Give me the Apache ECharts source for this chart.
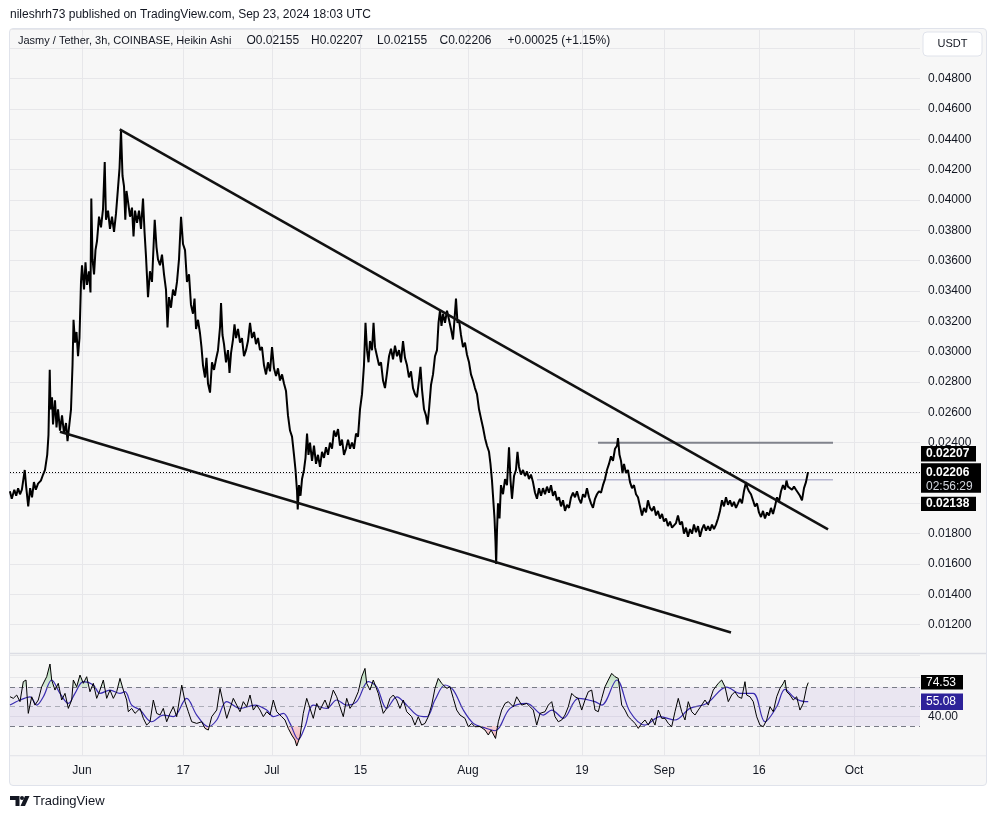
<!DOCTYPE html>
<html><head><meta charset="utf-8">
<script src="https://cdn.jsdelivr.net/npm/echarts@6/dist/echarts.min.js"></script>
<style>
html,body{margin:0;padding:0;background:#fff;}
#wrap{position:relative;width:996px;height:819px;overflow:hidden;background:#fff;}
#frame{position:absolute;left:9px;top:28px;width:978px;height:758px;background:#f7f7f7;border:1px solid #e0e3eb;border-radius:4px;box-sizing:border-box;}
#chart{position:absolute;left:0;top:0;width:996px;height:819px;}
</style></head><body>
<div id="wrap"><div id="frame"></div><div id="chart"></div></div>
<script>
// ---- time axis (days since 2024-06-01) ----
const tickDays = [0, 16, 30, 44, 61, 79, 92, 107, 122];
const tickLabels = ['Jun', '17', 'Jul', '15', 'Aug', '19', 'Sep', '16', 'Oct'];
const X_MIN = -11.38, X_MAX = 132.43;

// ---- price (JASMY/USDT, 3h Heikin Ashi, traced) [day, price] ----
const pricePoints = [
[-11.4,0.0208],[-11.1,0.0203],[-10.7,0.0209],[-10.4,0.0205],[-10.1,0.0210],[-9.8,0.0206],[-9.5,0.0209],[-9.05,0.0222],[-8.85,0.0212],[-8.5,0.0198],[-8.2,0.0210],[-7.9,0.0204],[-7.6,0.0214],[-7.3,0.0209],[-6.95,0.0213],[-6.5,0.0215],[-6.15,0.0219],[-5.85,0.0222],[-5.5,0.0232],[-5.3,0.0245],[-5.1,0.0288],[-4.98,0.0262],[-4.74,0.0270],[-4.58,0.0252],[-4.27,0.0268],[-4.03,0.0250],[-3.79,0.0262],[-3.48,0.0248],[-3.16,0.0258],[-2.84,0.0246],[-2.53,0.0253],[-2.29,0.0241],[-2.05,0.0250],[-1.74,0.0262],[-1.5,0.0291],[-1.34,0.0321],[-1.11,0.0306],[-0.87,0.0313],[-0.63,0.0297],[-0.4,0.0309],[-0.16,0.0346],[0,0.0357],[0.32,0.0341],[0.55,0.0359],[0.79,0.0344],[1.1,0.0353],[1.34,0.0339],[1.47,0.0401],[1.66,0.0361],[1.9,0.0351],[2.13,0.0367],[2.37,0.0373],[2.69,0.0389],[3.0,0.0382],[3.32,0.0394],[3.59,0.0425],[3.79,0.0387],[4.11,0.0393],[4.42,0.0381],[4.74,0.0389],[5.06,0.0379],[5.37,0.0391],[5.69,0.0408],[5.93,0.0421],[6.16,0.0446],[6.4,0.0416],[6.64,0.0409],[6.84,0.0387],[7.03,0.0406],[7.27,0.0399],[7.59,0.0389],[7.9,0.0395],[8.14,0.0376],[8.38,0.0393],[8.69,0.0385],[9.01,0.0393],[9.32,0.0381],[9.64,0.0401],[9.88,0.0379],[10.11,0.0363],[10.43,0.0336],[10.74,0.0353],[11.06,0.0346],[11.49,0.0387],[11.77,0.0369],[12.0,0.0361],[12.33,0.0357],[12.64,0.0364],[12.96,0.0351],[13.27,0.0341],[13.51,0.0316],[13.75,0.0336],[14.06,0.0329],[14.38,0.0341],[14.7,0.0337],[15.01,0.0346],[15.33,0.0361],[15.65,0.0389],[15.96,0.0371],[16.28,0.0367],[16.59,0.0346],[16.91,0.0351],[17.22,0.0331],[17.54,0.0325],[17.78,0.0335],[18.02,0.0315],[18.33,0.0321],[18.65,0.0312],[18.88,0.0303],[19.12,0.0291],[19.44,0.0283],[19.67,0.0296],[19.91,0.0279],[20.23,0.0273],[20.54,0.0293],[20.86,0.0288],[21.18,0.0295],[21.49,0.0301],[21.81,0.0316],[21.97,0.0332],[22.2,0.0311],[22.44,0.0305],[22.76,0.0293],[23.07,0.0301],[23.31,0.0286],[23.55,0.0299],[23.86,0.0308],[24.1,0.0318],[24.34,0.0309],[24.65,0.0315],[24.97,0.0306],[25.28,0.0309],[25.6,0.0297],[25.92,0.0301],[26.23,0.0307],[26.55,0.0319],[26.86,0.0309],[27.18,0.0313],[27.5,0.0305],[27.81,0.0309],[28.13,0.0301],[28.44,0.0303],[28.76,0.0291],[29.08,0.0285],[29.39,0.0293],[29.71,0.0287],[30.03,0.0303],[30.34,0.0289],[30.66,0.0284],[30.97,0.0289],[31.29,0.0281],[31.61,0.0285],[31.92,0.0279],[32.24,0.0274],[32.55,0.0258],[32.87,0.0248],[33.19,0.0244],[33.5,0.0232],[33.74,0.0222],[33.98,0.0208],[34.09,0.0196],[34.29,0.0212],[34.53,0.0205],[34.77,0.0216],[35.08,0.0222],[35.32,0.0230],[35.56,0.0246],[35.79,0.0232],[36.03,0.0240],[36.35,0.0228],[36.66,0.0238],[36.98,0.0226],[37.29,0.0232],[37.61,0.0224],[37.93,0.0234],[38.24,0.0230],[38.56,0.0237],[38.88,0.0232],[39.19,0.0240],[39.51,0.0236],[39.82,0.0248],[40.14,0.0244],[40.46,0.0249],[40.77,0.0238],[41.09,0.0242],[41.4,0.0232],[41.72,0.0236],[42.04,0.0242],[42.35,0.0236],[42.67,0.0240],[42.98,0.0236],[43.3,0.0246],[43.62,0.0244],[43.93,0.0262],[44.25,0.0272],[44.56,0.0291],[44.8,0.0319],[45.04,0.0301],[45.28,0.0293],[45.51,0.0307],[45.83,0.0301],[46.07,0.0319],[46.3,0.0303],[46.62,0.0297],[46.94,0.0291],[47.25,0.0293],[47.57,0.0281],[47.88,0.0276],[48.2,0.0286],[48.52,0.0297],[48.83,0.0302],[49.15,0.0295],[49.46,0.0304],[49.78,0.0297],[50.09,0.0301],[50.41,0.0293],[50.73,0.0307],[51.04,0.0296],[51.36,0.0291],[51.67,0.0283],[51.99,0.0287],[52.31,0.0276],[52.62,0.0272],[52.94,0.0270],[53.25,0.0281],[53.49,0.0290],[53.73,0.0275],[54.05,0.0262],[54.36,0.0258],[54.6,0.0252],[54.84,0.0262],[55.15,0.0278],[55.47,0.0285],[55.78,0.0297],[56.1,0.0301],[56.34,0.0319],[56.57,0.0327],[56.81,0.0317],[57.05,0.0325],[57.36,0.0319],[57.68,0.0327],[58.0,0.0321],[58.31,0.0315],[58.63,0.0308],[58.86,0.0321],[59.1,0.0335],[59.34,0.0319],[59.58,0.0321],[59.89,0.0311],[60.21,0.0303],[60.52,0.0306],[60.84,0.0298],[61.16,0.0293],[61.47,0.0285],[61.79,0.0281],[62.1,0.0276],[62.42,0.0272],[62.74,0.0262],[63.05,0.0256],[63.37,0.0250],[63.69,0.0243],[64.0,0.0238],[64.32,0.0234],[64.55,0.0226],[64.79,0.0215],[65.03,0.0200],[65.19,0.0190],[65.34,0.0175],[65.45,0.0160],[65.58,0.0182],[65.74,0.0200],[65.98,0.0190],[66.21,0.0212],
[66.53,0.0206],[66.85,0.0216],[67.16,0.0212],[67.48,0.0237],[67.72,0.0215],[67.95,0.0203],[68.27,0.0218],[68.58,0.0222],[68.82,0.0234],[69.06,0.0224],[69.37,0.0219],[69.69,0.0222],[70.01,0.0218],[70.32,0.0221],[70.64,0.0216],[70.95,0.0219],[71.27,0.0214],[71.59,0.0207],[71.9,0.0203],[72.22,0.0210],[72.54,0.0205],[72.85,0.0210],[73.17,0.0206],[73.48,0.0211],[73.8,0.0207],[74.12,0.0212],[74.43,0.0205],[74.75,0.0208],[75.06,0.0202],[75.38,0.0204],[75.7,0.0198],[76.01,0.0202],[76.33,0.0195],[76.64,0.0199],[76.96,0.0197],[77.28,0.0204],[77.59,0.0207],[77.91,0.0204],[78.22,0.0208],[78.54,0.0203],[78.86,0.0200],[79.17,0.0206],[79.49,0.0204],[79.8,0.0210],[80.12,0.0204],[80.44,0.0200],[80.75,0.0197],[81.07,0.0203],[81.38,0.0206],[81.7,0.0208],[82.02,0.0207],[82.33,0.0212],[82.65,0.0216],[82.96,0.0222],[83.28,0.0226],[83.6,0.0231],[83.91,0.0228],[84.23,0.0236],[84.55,0.0238],[84.7,0.0243],[84.94,0.0232],[85.18,0.0228],[85.41,0.0220],[85.65,0.0226],[85.97,0.0220],[86.28,0.0222],[86.6,0.0214],[86.92,0.0210],[87.23,0.0212],[87.55,0.0206],[87.86,0.0204],[88.18,0.0198],[88.5,0.0192],[88.81,0.0197],[89.13,0.0194],[89.44,0.0202],[89.76,0.0197],[90.08,0.0195],[90.39,0.0198],[90.71,0.0192],[91.02,0.0195],[91.34,0.0190],[91.66,0.0193],[91.97,0.0188],[92.29,0.0190],[92.6,0.0185],[92.92,0.0188],[93.24,0.0184],[93.55,0.0183],[93.87,0.0187],[94.18,0.0192],[94.5,0.0186],[94.82,0.0188],[95.13,0.0180],[95.45,0.0184],[95.77,0.0178],[96.08,0.0183],[96.4,0.0180],[96.71,0.0186],[97.03,0.0181],[97.35,0.0185],[97.66,0.0178],[97.98,0.0183],[98.29,0.0186],[98.61,0.0182],[98.93,0.0185],[99.24,0.0182],[99.56,0.0186],[99.87,0.0183],[100.19,0.0186],[100.51,0.0190],[100.82,0.0195],[101.14,0.0202],[101.45,0.0198],[101.77,0.0204],[102.09,0.0199],[102.4,0.0202],[102.72,0.0198],[103.03,0.0201],[103.35,0.0197],[103.67,0.0200],[103.98,0.0203],[104.3,0.0200],[104.61,0.0208],[104.93,0.0214],[105.17,0.0210],[105.4,0.0208],[105.72,0.0206],[106.04,0.0202],[106.35,0.0198],[106.67,0.0200],[106.98,0.0194],[107.3,0.0191],[107.62,0.0195],[107.93,0.0190],[108.25,0.0194],[108.56,0.0192],[108.88,0.0197],[109.2,0.0193],[109.51,0.0198],[109.83,0.0204],[110.14,0.0201],[110.46,0.0208],[110.78,0.0212],[111.09,0.0209],[111.33,0.0215],[111.57,0.0211],[111.88,0.0212],[112.2,0.0209],[112.52,0.0211],[112.83,0.0209],[113.15,0.0207],[113.46,0.0205],[113.78,0.0202],[114.1,0.0210],[114.41,0.0214],[114.73,0.02206]
];

// ---- drawings ----
const upperTrend = [[5.96, 0.04466], [117.9, 0.01828]];
const lowerTrend = [[-3.49, 0.02472], [102.56, 0.01148]];
const resistance24 = [[81.54, 0.024], [118.68, 0.024]];
const level2155 = [[71.9, 0.02155], [118.68, 0.02155]];
const lastPrice = 0.02206;
// axis ticks hidden behind the price tags on the right scale
const priceTicksUnderTags = [0.020, 0.022];

// ---- RSI (14) and RSI-based MA [day, value] ----
const rsiPoints = [
[-11.38,60.1],[-10.86,58.4],[-10.32,61.8],[-9.8,55],[-9.28,75.5],[-8.85,77.2],[-8.49,43],[-7.95,60],[-7.43,51.5],[-6.91,56.7],[-6.37,70.3],[-5.85,77.2],[-5.58,80.6],[-5.06,93.6],[-4.79,77.2],[-4.27,66.9],[-3.75,73.8],[-3.21,56.7],[-2.69,63.5],[-2.16,48.1],[-1.63,56.7],[-1.37,77.2],[-0.84,70.3],[-0.32,82.3],[0.21,73.8],[0.74,80.6],[1.26,65.2],[1.79,73.8],[2.32,58.4],[2.84,66.9],[3.37,77.2],[3.9,58.4],[4.42,66.9],[4.95,58.4],[5.48,65.2],[6.0,78.9],[6.53,66.9],[7.06,56.7],[7.32,44.7],[7.85,48.1],[8.38,43],[9.17,48.1],[9.69,37.9],[10.22,31],[10.75,34.4],[11.27,56.7],[11.8,43],[12.33,41.3],[12.85,48.1],[13.38,34.4],[13.91,43],[14.43,49.8],[14.96,39.6],[15.76,72],[16.28,55],[16.8,44.7],[17.34,34.4],[18.13,32.7],[18.92,34.4],[19.44,27.6],[19.96,25.9],[20.5,39.6],[21.29,46.4],[21.81,68.6],[22.33,53.2],[22.87,37.9],[23.39,48.1],[23.91,58.4],[24.45,51.5],[24.97,44.7],[25.49,55],[26.03,49.8],[26.55,61.8],[27.07,46.4],[27.61,51.5],[28.13,46.4],[28.65,39.6],[29.19,44.7],[29.71,41.3],[30.23,56.7],[30.77,44.7],[31.56,39.6],[32.08,36.2],[32.6,27.6],[33.14,20.8],[33.66,15.6],[33.93,9.5],[34.45,19.1],[34.97,43],[35.51,58.4],[36.03,48.1],[36.55,37.9],[37.09,53.2],[37.61,46.4],[38.4,56.7],[38.92,48.1],[39.71,66.9],[40.25,60],[40.77,49.8],[41.29,39.6],[41.83,58.4],[42.35,48.1],[42.87,53.2],[43.66,65.2],[44.2,80.6],[44.72,89.1],[44.99,73.8],[45.51,66.9],[46.03,77.2],[46.82,63.5],[47.61,43],[48.15,48.1],[48.67,58.4],[49.19,61.8],[49.73,56.7],[50.25,48.1],[50.77,56.7],[51.31,44.7],[52.1,39.6],[52.62,31],[53.14,39.6],[53.68,31],[54.2,32.7],[54.72,39.6],[55.26,51.5],[55.78,68.6],[56.3,78.9],[56.84,73.8],[57.63,68.6],[58.15,70.3],[58.68,58.4],[59.21,46.4],[59.73,41.3],[60.52,37.9],[61.05,29.3],[61.58,32.7],[62.1,29.3],[62.9,29.5],[63.69,25.9],[64.21,20.8],[64.65,25.9],[65.35,17.3],[65.79,34.4],[66.32,46.4],[66.85,53.2],[67.37,55],[68.16,49.8],[68.69,60],[69.49,51.5],[70.28,53.2],[70.8,49.8],[71.32,46.4],[71.86,31],[72.38,43],[73.17,44.7],[73.69,51.5],[74.23,55],[74.75,39.6],[75.27,34.4],[75.81,36.2],[76.33,41.3],[76.85,49.8],[77.39,63.5],[77.91,60],[78.43,58.4],[78.97,46.4],[79.49,56.7],[80.01,65.2],[80.55,66.9],[81.07,46.4],[81.59,44.7],[82.13,58.4],[82.65,70.3],[83.17,77.2],[83.71,84],[83.96,85],[84.23,80.6],[84.75,78.9],[85.29,51.5],[85.81,46.4],[86.33,39.6],[86.87,36.2],[87.39,32.7],[87.91,27.6],[88.45,32.7],[88.97,36.2],[89.49,31],[90.03,37.9],[90.55,31],[91.07,46.4],[91.61,37.9],[92.13,37.9],[92.65,32.7],[93.19,29.3],[93.71,44.7],[94.23,58.4],[94.77,44.7],[95.29,36.2],[95.81,55],[96.35,44.7],[96.87,41.3],[97.39,46.4],[97.93,51.5],[98.45,56.7],[98.97,51.5],[99.76,66.9],[100.55,73.8],[101.09,77.2],[101.61,70.3],[102.13,55],[102.67,61.8],[103.19,65.2],[103.71,60],[104.25,58.4],[104.77,75.5],[105.04,61.8],[105.56,60],[106.08,55],[106.62,39.6],[107.14,31],[107.66,29.3],[108.2,36.2],[108.72,49.8],[109.24,44.7],[109.78,60],[110.3,68.6],[110.82,73.8],[111.09,77.2],[111.36,65.2],[111.88,61.8],[112.4,56.7],[112.94,60],[113.46,46.4],[113.98,53.2],[114.52,70.3],[114.77,74.53]
];
const rsiMaPoints = [
[-11.38,51.5],[-9.8,56.7],[-8.22,60],[-7.16,51.5],[-6.11,60],[-4.79,77.2],[-3.48,63.5],[-2.16,53.2],[-1.11,63.5],[0.21,75.5],[1.79,72.1],[2.84,63.5],[4.42,66.9],[6.0,63.5],[6.79,65.2],[7.85,51.5],[9.17,46.4],[11.01,34.4],[12.85,41.3],[14.43,39.6],[16.54,58.4],[18.13,41.3],[19.96,29.3],[21.29,36.2],[22.87,55],[24.97,48.1],[27.34,51.5],[29.19,46.4],[30.23,39.6],[31.82,43],[32.87,32.7],[34.19,16.3],[35.24,29.3],[36.55,51.5],[38.66,48.1],[40.25,56.7],[41.83,51.5],[43.4,55],[45.25,75.5],[46.56,70.3],[48.15,48.1],[49.73,60],[51.31,51.5],[52.89,41.3],[54.47,39.6],[55.78,56.7],[57.37,72.1],[58.68,66.9],[60.26,46.4],[61.84,32.7],[63.42,28.6],[65.27,25.2],[67.64,48.1],[70.28,53.2],[72.9,41.3],[74.23,46.4],[76.06,37.9],[78.43,58.4],[81.07,55],[82.13,51.5],[84.5,77.2],[86.6,44.7],[88.97,31],[91.34,39.6],[93.71,36.2],[96.08,48.1],[98.72,53.2],[101.88,70],[103.98,63.5],[106.08,63.5],[107.93,34.4],[109.78,49.8],[111.09,67.6],[112.67,58.4],[114.25,55],[114.77,55.08]
];
const rsiLevels = [70, 50, 30];
const rsiAxisLabels = [40];
const rsiLast = 74.53, rsiMaLast = 55.08;

const FONT = 'Liberation Sans, Arial, sans-serif';
const INK = '#131722';
const GRID_C = '#e7e7ea';

const chart = echarts.init(document.getElementById('chart'), null, {renderer: 'canvas'});

const option = {
  animation: false,
  backgroundColor: 'transparent',
  textStyle: {fontFamily: FONT},
  grid: [
    {left: 10, right: 76, top: 29, height: 626, outerBoundsMode: 'none', containLabel: false},
    {left: 10, right: 76, top: 653.3, height: 102, outerBoundsMode: 'none', containLabel: false}
  ],
  xAxis: [
    {type: 'value', gridIndex: 0, min: X_MIN, max: X_MAX,
     axisLine: {show: false}, axisTick: {show: false, customValues: tickDays},
     axisLabel: {show: false, customValues: tickDays},
     splitLine: {show: true, lineStyle: {color: GRID_C, width: 1}}},
    {type: 'value', gridIndex: 1, min: X_MIN, max: X_MAX,
     axisLine: {show: false}, axisTick: {show: false, customValues: tickDays},
     axisLabel: {customValues: tickDays, color: INK, fontSize: 12, margin: 9, fontFamily: FONT,
       formatter: function (v) { const i = tickDays.indexOf(Math.round(v)); return i >= 0 ? tickLabels[i] : ''; }},
     splitLine: {show: true, lineStyle: {color: GRID_C, width: 1}}}
  ],
  yAxis: [
    {type: 'value', gridIndex: 0, position: 'right', min: 0.010, max: 0.051277, interval: 0.002,
     axisLine: {show: false}, axisTick: {show: false},
     splitLine: {lineStyle: {color: GRID_C, width: 1}},
     axisLabel: {color: INK, fontSize: 12, margin: 8, fontFamily: FONT,
       formatter: function (v) {
         if (v < 0.0111 || v > 0.0491) return '';
         for (let i = 0; i < priceTicksUnderTags.length; i++) { if (Math.abs(v - priceTicksUnderTags[i]) < 1e-6) return ''; }
         return v.toFixed(5);
       }}},
    {type: 'value', gridIndex: 1, position: 'right', min: 0, max: 104.6, interval: 40,
     axisLine: {show: false}, axisTick: {show: false},
     splitLine: {lineStyle: {color: GRID_C, width: 1}},
     axisLabel: {color: INK, fontSize: 12, margin: 8, fontFamily: FONT,
       formatter: function (v) { return rsiAxisLabels.some(function (t) { return Math.abs(v - t) < 0.01; }) ? v.toFixed(2) : ''; }}}
  ],
  series: [
    {name: 'price', type: 'line', xAxisIndex: 0, yAxisIndex: 0, data: pricePoints, symbol: 'none', z: 3,
     lineStyle: {color: '#000', width: 2}, silent: true,
     markLine: {silent: true, symbol: 'none', precision: 6, label: {show: false},
       lineStyle: {color: '#000', width: 1, type: [1, 2]}, data: [{yAxis: lastPrice}]}},
    {name: 'upper', type: 'line', xAxisIndex: 0, yAxisIndex: 0, data: upperTrend, symbol: 'none', z: 4,
     lineStyle: {color: '#111', width: 2.5}, silent: true},
    {name: 'lower', type: 'line', xAxisIndex: 0, yAxisIndex: 0, data: lowerTrend, symbol: 'none', z: 4,
     lineStyle: {color: '#111', width: 2.5}, silent: true},
    {name: 'res24', type: 'line', xAxisIndex: 0, yAxisIndex: 0, data: resistance24, symbol: 'none', z: 2,
     lineStyle: {color: '#80838c', width: 2}, silent: true},
    {name: 'lvl', type: 'line', xAxisIndex: 0, yAxisIndex: 0, data: level2155, symbol: 'none', z: 2,
     lineStyle: {color: '#9596bd', width: 1}, silent: true},
    {name: 'rsi', type: 'line', xAxisIndex: 1, yAxisIndex: 1, data: rsiPoints, symbol: 'none', z: 5,
     lineStyle: {color: '#000', width: 1}, silent: true,
     markArea: {silent: true, itemStyle: {color: 'rgba(126,87,194,0.10)'}, data: [[{yAxis: 30}, {yAxis: 70}]]},
     markLine: {silent: true, symbol: 'none', precision: 2, label: {show: false},
       data: rsiLevels.map(function (l) {
         return {yAxis: l, lineStyle: {color: l === 50 ? 'rgba(120,123,134,0.55)' : '#787b86', width: 1, type: [5, 4]}};
       })}},
    {name: 'rsiHi', type: 'line', xAxisIndex: 1, yAxisIndex: 1, data: rsiPoints, symbol: 'none', z: 3,
     lineStyle: {opacity: 0, width: 0}, areaStyle: {origin: 'start', color: 'rgba(0,0,0,0)'}, silent: true},
    {name: 'rsiLo', type: 'line', xAxisIndex: 1, yAxisIndex: 1, data: rsiPoints, symbol: 'none', z: 3,
     lineStyle: {opacity: 0, width: 0}, areaStyle: {origin: 'end', color: 'rgba(0,0,0,0)'}, silent: true},
    {name: 'rsiMA', type: 'line', xAxisIndex: 1, yAxisIndex: 1, data: rsiMaPoints, symbol: 'none', z: 4,
     smooth: 0.35, lineStyle: {color: '#3a2cb0', width: 1.2}, silent: true}
  ]
};
chart.setOption(option);

// pixel positions of the RSI pane and its levels, through the axis scale
const pTop = chart.convertToPixel({yAxisIndex: 1}, 104.6);
const pBot = chart.convertToPixel({yAxisIndex: 1}, 0);
const p70 = chart.convertToPixel({yAxisIndex: 1}, 70);
const p30 = chart.convertToPixel({yAxisIndex: 1}, 30);
const f70 = (p70 - pTop) / (pBot - pTop);
const f30 = (p30 - pTop) / (pBot - pTop);
const greenFill = new echarts.graphic.LinearGradient(0, pTop, 0, pBot, [
  {offset: 0, color: 'rgba(76,175,80,0.75)'},
  {offset: f70 - 0.0001, color: 'rgba(76,175,80,0.25)'},
  {offset: f70, color: 'rgba(76,175,80,0)'},
  {offset: 1, color: 'rgba(76,175,80,0)'}
], true);
const redFill = new echarts.graphic.LinearGradient(0, pTop, 0, pBot, [
  {offset: 0, color: 'rgba(242,54,69,0)'},
  {offset: f30, color: 'rgba(242,54,69,0)'},
  {offset: f30 + 0.0001, color: 'rgba(242,54,69,0.25)'},
  {offset: 1, color: 'rgba(242,54,69,0.8)'}
], true);

const yR1 = chart.convertToPixel({yAxisIndex: 1}, rsiLast);
const yR2 = chart.convertToPixel({yAxisIndex: 1}, rsiMaLast);

function tag(x, y, w, h, fill, lines) {
  const children = [{type: 'rect', shape: {x: x, y: y, width: w, height: h}, style: {fill: fill}}];
  lines.forEach(function (l) {
    children.push({type: 'text', x: x + 5, y: l.y, style: {text: l.t, fill: l.c || '#fff', font: (l.b ? 'bold ' : '') + '12px ' + FONT, verticalAlign: 'middle', align: 'left'}});
  });
  return {type: 'group', z: 100, zlevel: 1, children: children};
}
function txt(x, y, t, size, opts) {
  opts = opts || {};
  return {type: 'text', z: 100, zlevel: 1, x: x, y: y, style: {text: t, fill: opts.fill || INK, font: (opts.bold ? 'bold ' : '') + size + 'px ' + FONT, verticalAlign: 'middle', align: opts.align || 'left'}};
}

chart.setOption({
  series: [{}, {}, {}, {}, {}, {},
    {areaStyle: {origin: 'start', color: greenFill}},
    {areaStyle: {origin: 'end', color: redFill}}],
  graphic: {elements: [
  txt(10, 15, 'nileshrh73 published on TradingView.com, Sep 23, 2024 18:03 UTC', 12),
  txt(18, 41, 'Jasmy / Tether, 3h, COINBASE, Heikin Ashi', 11),
  txt(246.5, 41, 'O0.02155', 12),
  txt(311, 41, 'H0.02207', 12),
  txt(377, 41, 'L0.02155', 12),
  txt(439.5, 41, 'C0.02206', 12),
  txt(507.5, 41, '+0.00025 (+1.15%)', 12),
  {type: 'rect', z: 100, zlevel: 1, shape: {x: 923, y: 32, width: 59, height: 24, r: 4}, style: {fill: '#fff', stroke: '#e0e3eb', lineWidth: 1}},
  txt(952.5, 44, 'USDT', 11, {align: 'center'}),
  {type: 'line', z: 100, zlevel: 1, shape: {x1: 10, y1: 653.5, x2: 986, y2: 653.5}, style: {stroke: '#dcdde4', lineWidth: 1.5}},
  {type: 'line', z: 100, zlevel: 1, shape: {x1: 10, y1: 755.8, x2: 986, y2: 755.8}, style: {stroke: '#e6e7ec', lineWidth: 1}},
  tag(921, 446, 55, 15.5, '#000', [{t: '0.02207', y: 453.8, b: true}]),
  tag(921, 463.3, 60, 29.5, '#000', [{t: '0.02206', y: 472.2, b: true}, {t: '02:56:29', y: 486.5, c: '#d1d4dc'}]),
  tag(921, 496.7, 55, 14.2, '#000', [{t: '0.02138', y: 503.8, b: true}]),
  tag(921, yR1 - 7.5, 42, 14.5, '#000', [{t: rsiLast.toFixed(2), y: yR1}]),
  tag(921, yR2 - 8, 42, 16.5, '#2e2299', [{t: rsiMaLast.toFixed(2), y: yR2 + 0.3}]),
  {type: 'polygon', z: 100, zlevel: 1, shape: {points: [[10, 796], [19.5, 796], [19.5, 806], [15.5, 806], [15.5, 800], [10, 800]]}, style: {fill: INK}},
  {type: 'circle', z: 100, zlevel: 1, shape: {cx: 22, cy: 798, r: 2}, style: {fill: INK}},
  {type: 'polygon', z: 100, zlevel: 1, shape: {points: [[25, 796], [29.5, 796], [25, 806], [20.5, 806]]}, style: {fill: INK}},
  txt(33, 801, 'TradingView', 13)
]}});
</script></body></html>
